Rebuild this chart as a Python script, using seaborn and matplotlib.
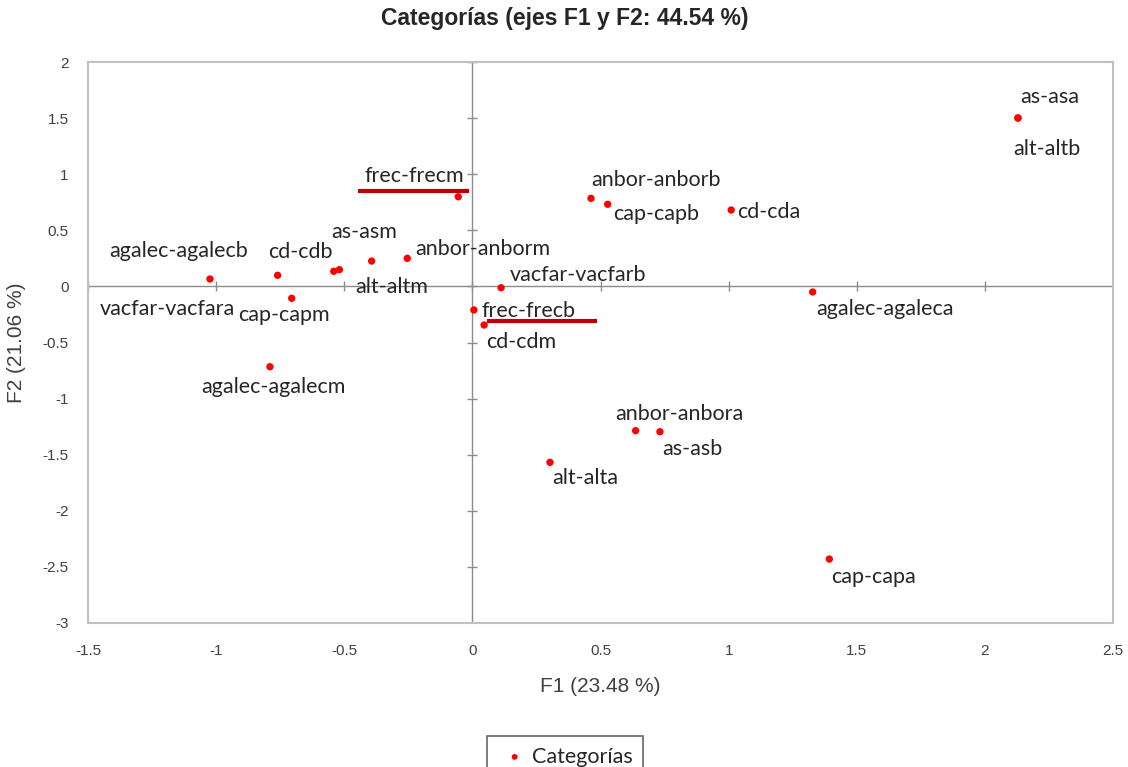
import matplotlib
matplotlib.use("Agg")
import matplotlib.pyplot as plt
import seaborn as sns
import pandas as pd

sns.set_style("white")
plt.rcParams["font.family"] = ["Lato", "DejaVu Sans"]

# Datos (coordenadas de las categorias)
categorias = [
    "agalec-agaleca", "agalec-agalecb", "agalec-agalecm",
    "vacfar-vacfara", "vacfar-vacfarb",
    "cd-cda", "cd-cdb", "cd-cdm",
    "as-asa", "as-asb", "as-asm",
    "alt-alta", "alt-altb", "alt-altm",
    "anbor-anbora", "anbor-anborb", "anbor-anborm",
    "cap-capa", "cap-capb", "cap-capm",
    "frec-frecb", "frec-frecm",
]
f1 = [1.328, -0.760, -0.790,
      -1.024, 0.112,
      1.010, -0.541, 0.046,
      2.129, 0.732, -0.519,
      0.303, 2.129, -0.393,
      0.637, 0.463, -0.254,
      1.393, 0.528, -0.705,
      0.006, -0.055]
f2 = [-0.050, 0.099, -0.716,
      0.066, -0.012,
      0.681, 0.135, -0.344,
      1.501, -1.295, 0.149,
      -1.568, 1.501, 0.226,
      -1.286, 0.785, 0.250,
      -2.430, 0.732, -0.106,
      -0.210, 0.799]

x_ticks = [-1.5, -1, -0.5, 0, 0.5, 1, 1.5, 2, 2.5]
y_ticks = [-3, -2.5, -2, -1.5, -1, -0.5, 0, 0.5, 1, 1.5, 2]
x_ticklabels = ["-1.5", "-1", "-0.5", "0", "0.5", "1", "1.5", "2", "2.5"]
y_ticklabels = ["-3", "-2.5", "-2", "-1.5", "-1", "-0.5", "0", "0.5", "1", "1.5", "2"]

# posicion de las etiquetas (desplazamiento en pixeles: derecha, arriba)
label_offset = {
    "agalec-agaleca": (72, -17), "agalec-agalecb": (-99, 24), "agalec-agalecm": (4, -20),
    "vacfar-vacfara": (-43, -30), "vacfar-vacfarb": (77, 13),
    "cd-cda": (38, -2), "cd-cdb": (-33, 19), "cd-cdm": (37, -17),
    "as-asa": (32, 21), "as-asb": (32, -17), "as-asm": (25, 38),
    "alt-alta": (35, -16), "alt-altb": (29, -31), "alt-altm": (20, -26),
    "anbor-anbora": (44, 17), "anbor-anborb": (65, 18), "anbor-anborm": (76, 9),
    "cap-capa": (44, -18), "cap-capb": (48, -10), "cap-capm": (-8, -17),
    "frec-frecb": (55, -1), "frec-frecm": (-44, 21),
}
# subrayados rojos a mano (x inicio, x fin, y) en pixeles respecto al punto
subrayados = {
    "frec-frecm": (-100, 11, 6),
    "frec-frecb": (13, 123, -11),
}

df = pd.DataFrame({"F1": f1, "F2": f2, "cat": categorias})

fig = plt.figure(figsize=(11.28, 7.67), dpi=100)
ax = fig.add_axes([88 / 1128, 1 - 623 / 767, 1025 / 1128, 561 / 767])

ax.axhline(0, color="#8c8c8c", lw=1, zorder=1)
ax.axvline(0, color="#8c8c8c", lw=1, zorder=1)
# marcas de graduacion sobre los ejes centrales
ax.scatter(x_ticks, [0] * len(x_ticks), marker="|", s=50, color="#8c8c8c", lw=1, zorder=1)
ax.scatter([0] * len(y_ticks), y_ticks, marker="_", s=50, color="#8c8c8c", lw=1, zorder=1)

sns.scatterplot(data=df, x="F1", y="F2", color="#ff0000", s=28, edgecolor="none",
                label="Categorías", ax=ax, zorder=3)

for c, x, y in zip(categorias, f1, f2):
    dx, dy = label_offset[c]
    ax.annotate(c, (x, y), xytext=(dx, dy), textcoords="offset pixels",
                ha="center", va="center", fontsize=15.5, color="#262626")

ax.set_xlim(-1.5, 2.5)
ax.set_ylim(-3, 2)
ax.set_xticks(x_ticks)
ax.set_yticks(y_ticks)
narrow = ["Liberation Sans Narrow", "Liberation Sans", "DejaVu Sans"]
ax.set_xticklabels(x_ticklabels, family=narrow, fontsize=11, color="#404040")
ax.set_yticklabels(y_ticklabels, family=narrow, fontsize=11, color="#404040")
ax.tick_params(axis="x", length=0, pad=15)
ax.tick_params(axis="y", length=0, pad=14)
for s in ax.spines.values():
    s.set_color("#c0c0c0")
    s.set_linewidth(1.5)

ax.set_xlabel("F1 (23.48 %)", family=narrow, fontsize=15, color="#404040", labelpad=14)
ax.set_ylabel("F2 (21.06 %)", family=narrow, fontsize=15, color="#404040", labelpad=12)
fig.suptitle("Categorías (ejes F1 y F2: 44.54 %)", family=["Liberation Sans", "DejaVu Sans"],
             fontsize=16.5, fontweight="bold", x=565 / 1128, y=1 - 19 / 767, va="center")

ax.legend_.remove()
handles, labels = ax.get_legend_handles_labels()
leg = fig.legend(handles, labels, loc="upper center", bbox_to_anchor=(565 / 1128, 1 - 725 / 767),
                 frameon=True, fancybox=False, fontsize=15.5, handletextpad=0.0,
                 handlelength=1.6, borderpad=0.5, markerscale=0.8)
leg.get_frame().set_edgecolor("#404040")
leg.get_frame().set_linewidth(1.2)

# subrayados rojos
fig.canvas.draw()
for c, (x0, x1, dy) in subrayados.items():
    i = categorias.index(c)
    px, py = ax.transData.transform((f1[i], f2[i]))
    inv = ax.transData.inverted()
    a = inv.transform((px + x0, py + dy))
    b = inv.transform((px + x1, py + dy))
    ax.plot([a[0], b[0]], [a[1], b[1]], color="#c00000", lw=3, zorder=2, solid_capstyle="butt")

fig.savefig("out.png", dpi=100)
